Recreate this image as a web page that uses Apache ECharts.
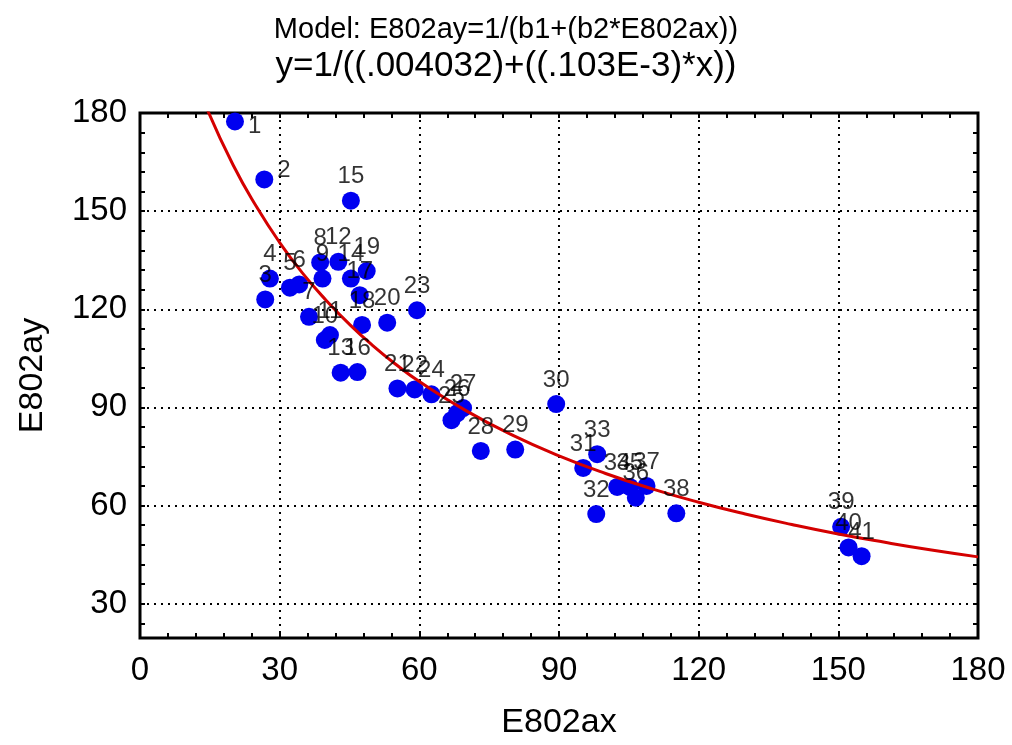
<!DOCTYPE html>
<html>
<head>
<meta charset="utf-8">
<title>E802ay vs E802ax</title>
<script src="https://cdn.jsdelivr.net/npm/echarts@6/dist/echarts.min.js"></script>
<style>
  html, body { margin: 0; padding: 0; background: #fff; }
  #chart { width: 1012px; height: 745px; }
</style>
</head>
<body>
<div id="chart"></div>
<script>
var pointX = [20.4, 26.7, 26.9, 27.9, 32.2, 34.2, 36.3, 38.7, 39.2, 39.7,
  40.8, 42.6, 43.1, 45.3, 45.3, 46.7, 47.2, 47.7, 48.7, 53.1,
  55.3, 59.0, 59.5, 62.6, 66.9, 68.1, 69.4, 73.2, 80.6, 89.4,
  95.2, 98.0, 98.2, 102.5, 105.2, 106.5, 108.8, 115.2, 150.6, 152.2, 155.0];
var pointY = [177.4, 159.7, 123.0, 129.4, 126.6, 127.6, 117.7, 134.3, 129.4, 110.6,
  112.1, 134.5, 100.6, 129.4, 153.2, 100.8, 124.3, 115.2, 131.7, 115.9,
  95.8, 95.5, 119.7, 94.0, 86.1, 88.2, 89.8, 76.7, 77.1, 91.0,
  71.5, 57.4, 75.7, 65.7, 65.7, 62.4, 66.0, 57.6, 53.5, 47.2, 44.5];

// 拟合曲线 y=1/((.004032)+((.103E-3)*x)) 上读取的点
var fitX = [14.5, 20, 25, 30, 35, 40, 45, 50, 55, 60, 70, 80, 90, 100, 110,
  120, 130, 140, 150, 160, 170, 180];
var fitY = [180.9, 164.1, 151.4, 140.4, 130.9, 122.7, 115.4, 108.9, 103.1, 97.9,
  89.0, 81.5, 75.2, 69.8, 65.1, 61.0, 57.4, 54.2, 51.3, 48.75, 46.4, 44.3];

// 刻度
var xTicks = [0, 30, 60, 90, 120, 150, 180];
var yTicks = [30, 60, 90, 120, 150, 180];
var yMinorTicks = [24, 36, 42, 48, 54, 66, 72, 78, 84, 96, 102, 108, 114,
  126, 132, 138, 144, 156, 162, 168, 174];

var titleLine1 = "Model: E802ay=1/(b1+(b2*E802ax))";
var titleLine2 = "y=1/((.004032)+((.103E-3)*x))";

(function () {
  var myChart = echarts.init(document.getElementById("chart"));
  var font = "'Liberation Sans', Arial, sans-serif";

  var pts = pointX.map(function (x, i) {
    return [x, pointY[i]];
  });
  var labelPts = pointX.map(function (x, i) {
    var item = { value: [x, pointY[i]], name: String(i + 1) };
    // 前两个点的标签放在右侧
    if (i === 0) item.label = { position: "right", distance: 4, offset: [0, 5] };
    if (i === 1) item.label = { position: "right", distance: 4, offset: [0, -9] };
    return item;
  });
  var fit = fitX.map(function (x, i) {
    return [x, fitY[i]];
  });

  var dotted = { color: "#000", width: 2, type: [2, 5] };

  var option = {
    animation: false,
    textStyle: { fontFamily: font },
    title: [{
      text: titleLine1,
      left: "center",
      top: 10,
      textStyle: { fontFamily: font, fontSize: 29, fontWeight: "normal", color: "#000" }
    }, {
      text: titleLine2,
      left: "center",
      top: 44,
      textStyle: { fontFamily: font, fontSize: 35, fontWeight: "normal", color: "#000" }
    }],
    grid: {
      left: 140,
      right: 34,
      top: 113,
      bottom: 107,
      show: true,
      borderColor: "#000",
      borderWidth: 3,
      backgroundColor: "#fff"
    },
    xAxis: [{
      type: "value",
      position: "bottom",
      min: 0,
      max: 180,
      interval: 30,
      axisLine: { show: false },
      axisTick: { show: true, inside: true, length: 5, lineStyle: { color: "#000", width: 2 } },
      minorTick: { show: true, splitNumber: 5, length: 5, lineStyle: { color: "#000", width: 2 } },
      axisLabel: { color: "#000", fontSize: 33, margin: 16, fontFamily: font },
      splitLine: { show: true, lineStyle: dotted },
      name: "E802ax",
      nameLocation: "middle",
      nameGap: 68,
      nameTextStyle: { color: "#000", fontSize: 34, fontFamily: font }
    }, {
      type: "value",
      position: "top",
      min: 0,
      max: 180,
      interval: 30,
      axisLine: { show: false },
      axisTick: { show: true, inside: true, length: 5, lineStyle: { color: "#000", width: 2 } },
      minorTick: { show: true, splitNumber: 5, length: 5, lineStyle: { color: "#000", width: 2 } },
      axisLabel: { show: false },
      splitLine: { show: false }
    }],
    yAxis: [{
      type: "value",
      position: "left",
      min: 19.5,
      max: 180,
      axisLine: { show: false },
      axisTick: { show: true, inside: true, length: 5, customValues: yTicks, lineStyle: { color: "#000", width: 2 } },
      axisLabel: { color: "#000", fontSize: 33, margin: 13, customValues: yTicks, fontFamily: font },
      splitLine: { show: true, lineStyle: dotted },
      name: "E802ay",
      nameLocation: "middle",
      nameGap: 90,
      nameTextStyle: { color: "#000", fontSize: 34, fontFamily: font }
    }, {
      type: "value",
      position: "left",
      min: 19.5,
      max: 180,
      axisLine: { show: false },
      axisTick: { show: true, inside: true, length: 5, customValues: yMinorTicks, lineStyle: { color: "#000", width: 2 } },
      axisLabel: { show: false },
      splitLine: { show: false }
    }, {
      type: "value",
      position: "right",
      min: 19.5,
      max: 180,
      axisLine: { show: false },
      axisTick: { show: true, inside: true, length: 5, customValues: yMinorTicks.concat(yTicks), lineStyle: { color: "#000", width: 2 } },
      axisLabel: { show: false },
      splitLine: { show: false }
    }],
    series: [{
      name: "points",
      type: "scatter",
      z: 2,
      symbol: "circle",
      symbolSize: 18,
      itemStyle: { color: "#0000f0", opacity: 1 },
      data: pts
    }, {
      name: "fit",
      type: "line",
      z: 3,
      smooth: true,
      showSymbol: false,
      symbol: "none",
      lineStyle: { color: "#d40000", width: 3 },
      data: fit
    }, {
      name: "labels",
      type: "scatter",
      z: 4,
      symbolSize: 18,
      itemStyle: { color: "transparent" },
      label: {
        show: true,
        position: "top",
        distance: 3,
        formatter: "{b}",
        color: "#000",
        fontSize: 24,
        fontFamily: font
      },
      data: labelPts
    }]
  };

  myChart.setOption(option);
  window.addEventListener("resize", function () {
    myChart.resize();
  });
})();
</script>
</body>
</html>
